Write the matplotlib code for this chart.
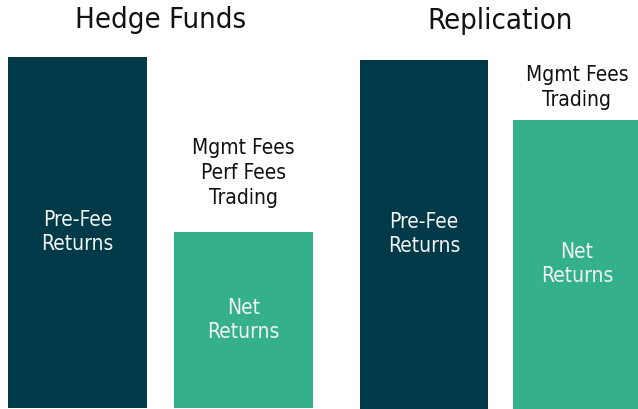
import matplotlib
matplotlib.use("Agg")
import matplotlib.pyplot as plt

# ---- data ----
panels = ["Hedge Funds", "Replication"]
bar_labels = ["Pre-Fee\nReturns", "Net\nReturns"]
hf_values = [351, 176]
rep_values = [349, 289]
hf_costs = "Mgmt Fees\nPerf Fees\nTrading"
rep_costs = "Mgmt Fees\nTrading"

colors = ["#003a48", "#34b18c"]

W, H = 638, 409
fig = plt.figure(figsize=(W / 100, H / 100), dpi=100)
plt.rcParams['font.family'] = ['DejaVu Sans']
FONT = dict(family='DejaVu Sans', stretch='condensed')

def make_axes(x0, x1, y0, y1):
    return fig.add_axes([x0 / W, y0 / H, (x1 - x0) / W, (y1 - y0) / H])

width = 0.837
# left panel
axL = make_axes(8, 313, 1, 409)
axR = make_axes(360, 641, 0, 409)

for ax, vals, costs, title, ylim, off in [
        (axL, hf_values, hf_costs, panels[0], 408, 24),
        (axR, rep_values, rep_costs, panels[1], 409, 10)]:
    xs = [0, 1]
    ax.bar(xs, vals, width=width, color=colors, align='center')
    ax.set_xlim(-width / 2, 1 + width / 2)
    ax.set_ylim(0, ylim)
    ax.axis('off')
    for x, v, lab in zip(xs, vals, bar_labels):
        ax.text(x, v / 2, lab, ha='center', va='center', color='#f2f2f2',
                fontsize=15, linespacing=1.25, **FONT)
    ax.text(1, vals[1] + off, costs, ha='center', va='bottom', color='#111111',
            fontsize=15, linespacing=1.3, **FONT)
    ax.text(0.5, 380, title, ha='center', va='baseline', color='#111111',
            fontsize=21, transform=ax.get_xaxis_transform() if False else ax.transData,
            **FONT)

# reposition titles at fixed pixel baseline using axes x center
for t in list(axL.texts[-1:]) + list(axR.texts[-1:]):
    pass

fig.savefig("out.png", dpi=100)
